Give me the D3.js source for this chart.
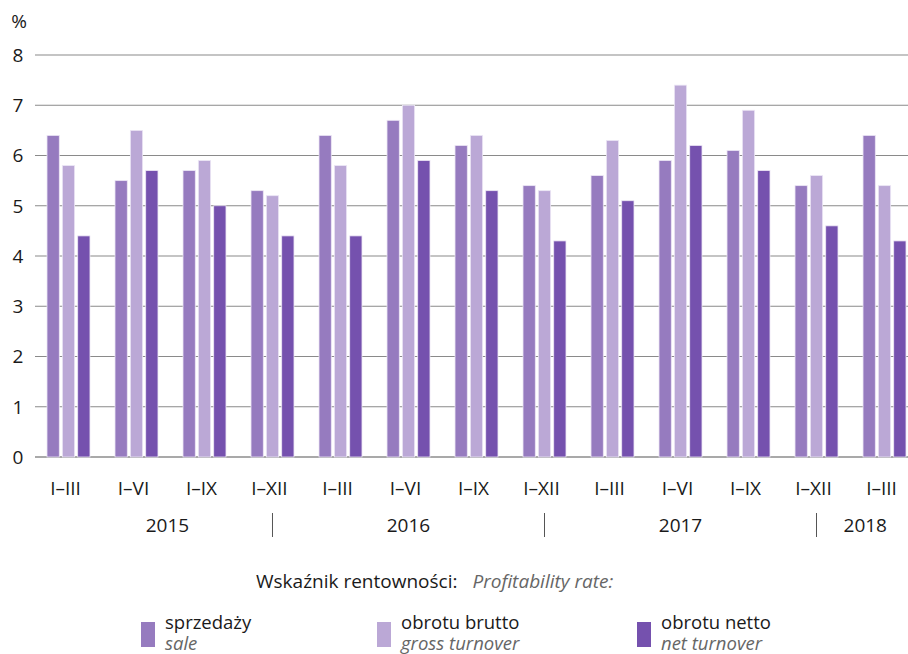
<!DOCTYPE html>
<html>
<head>
<meta charset="utf-8">
<script src="https://d3js.org/d3.v7.min.js"></script>
<style>
  body { margin: 0; background: #fff; }
  text { font-family: "Open Sans", "Noto Sans", sans-serif; }
</style>
</head>
<body>
<div id="chart"></div>
<script>
// data
const periods = ["I–III", "I–VI", "I–IX", "I–XII", "I–III", "I–VI", "I–IX", "I–XII", "I–III", "I–VI", "I–IX", "I–XII", "I–III"];
const years = ["2015", "2016", "2017", "2018"];
const sale  = [6.4, 5.5, 5.7, 5.3, 6.4, 6.7, 6.2, 5.4, 5.6, 5.9, 6.1, 5.4, 6.4];
const gross = [5.8, 6.5, 5.9, 5.2, 5.8, 7.0, 6.4, 5.3, 6.3, 7.4, 6.9, 5.6, 5.4];
const net   = [4.4, 5.7, 5.0, 4.4, 4.4, 5.9, 5.3, 4.3, 5.1, 6.2, 5.7, 4.6, 4.3];
const yTicks = [0, 1, 2, 3, 4, 5, 6, 7, 8];

const seriesKeys = ["sale", "gross", "net"];
const seriesPl = ["sprzedaży", "obrotu brutto", "obrotu netto"];
const seriesEn = ["sale", "gross turnover", "net turnover"];
const colors = ["#967bbf", "#bba8d6", "#7551ae"];

const width = 908, height = 654;
const fs = "19px";
const svg = d3.select("#chart").append("svg")
    .attr("width", width)
    .attr("height", height);

const y = d3.scaleLinear().domain([0, 8]).range([457, 55]);
const x0 = d3.scaleBand()
    .domain(d3.range(periods.length))
    .range([40, 913])
    .paddingInner(0.368)
    .paddingOuter(0.103);
const x1 = d3.scaleBand()
    .domain(seriesKeys)
    .range([0, x0.bandwidth()])
    .paddingInner(0.2);
const color = d3.scaleOrdinal().domain(seriesKeys).range(colors);

// gridlines
svg.append("g").selectAll("line")
    .data(yTicks)
    .join("line")
    .attr("x1", 35).attr("x2", 908)
    .attr("y1", d => y(d)).attr("y2", d => y(d))
    .attr("stroke", d => d === 0 ? "#555" : "#8a8a8a")
    .attr("stroke-width", 1.2);

// y labels
svg.append("g").selectAll("text")
    .data(yTicks)
    .join("text")
    .attr("x", 18).attr("y", d => y(d))
    .attr("dy", "0.36em")
    .attr("text-anchor", "middle")
    .style("font-size", fs)
    .attr("fill", "#1a1a1a")
    .text(d => d);

svg.append("text")
    .attr("x", 19).attr("y", 28)
    .attr("text-anchor", "middle")
    .style("font-size", fs)
    .attr("fill", "#1a1a1a")
    .text("%");

// bars
const rows = periods.map((p, i) => ({ i, sale: sale[i], gross: gross[i], net: net[i] }));
svg.append("g").selectAll("g")
    .data(rows)
    .join("g")
    .attr("transform", d => `translate(${x0(d.i)},0)`)
    .selectAll("rect")
    .data(d => seriesKeys.map(k => ({ key: k, value: d[k] })))
    .join("rect")
    .attr("x", d => x1(d.key))
    .attr("width", x1.bandwidth())
    .attr("y", d => y(d.value))
    .attr("height", d => y(0) - y(d.value))
    .attr("fill", d => color(d.key))
    .attr("stroke", "#ece6f5")
    .attr("stroke-width", 0.8);

// period labels
svg.append("g").selectAll("text")
    .data(periods)
    .join("text")
    .attr("x", (d, i) => x0(i) + x0.bandwidth() / 2 - 3)
    .attr("y", 495)
    .attr("text-anchor", "middle")
    .style("font-size", fs)
    .attr("fill", "#1a1a1a")
    .text(d => d);

// year separators at I–XII groups
const sepIdx = [3, 7, 11];
const sepX = sepIdx.map(i => x0(i) + x0.bandwidth() / 2);
svg.append("g").selectAll("line")
    .data(sepX)
    .join("line")
    .attr("x1", d => d).attr("x2", d => d)
    .attr("y1", 513).attr("y2", 537)
    .attr("stroke", "#555").attr("stroke-width", 1);

const bounds = [x0(0) + x0.bandwidth() / 2 - 6, ...sepX, 908 + 6];
svg.append("g").selectAll("text")
    .data(years)
    .join("text")
    .attr("x", (d, i) => (bounds[i] + bounds[i + 1]) / 2)
    .attr("y", 532)
    .attr("text-anchor", "middle")
    .style("font-size", fs)
    .attr("fill", "#1a1a1a")
    .text(d => d);

// legend
const title = svg.append("text")
    .attr("x", 256).attr("y", 588)
    .style("font-size", fs);
title.append("tspan").attr("fill", "#1a1a1a").text("Wskaźnik rentowności:");
title.append("tspan").attr("dx", 15).attr("fill", "#666").style("font-style", "italic").text("Profitability rate:");

const legX = [141, 377, 637];
const leg = svg.append("g").selectAll("g")
    .data(seriesKeys)
    .join("g")
    .attr("transform", (d, i) => `translate(${legX[i]},0)`);
leg.append("rect")
    .attr("x", 0).attr("y", 622)
    .attr("width", 14).attr("height", 25)
    .attr("fill", d => color(d));
leg.append("text")
    .attr("x", 24).attr("y", 629)
    .style("font-size", "18.5px")
    .attr("fill", "#1a1a1a")
    .text((d, i) => seriesPl[i]);
leg.append("text")
    .attr("x", 24).attr("y", 649.5)
    .style("font-size", "18.5px")
    .style("font-style", "italic")
    .attr("fill", "#666")
    .text((d, i) => seriesEn[i]);
</script>
</body>
</html>
